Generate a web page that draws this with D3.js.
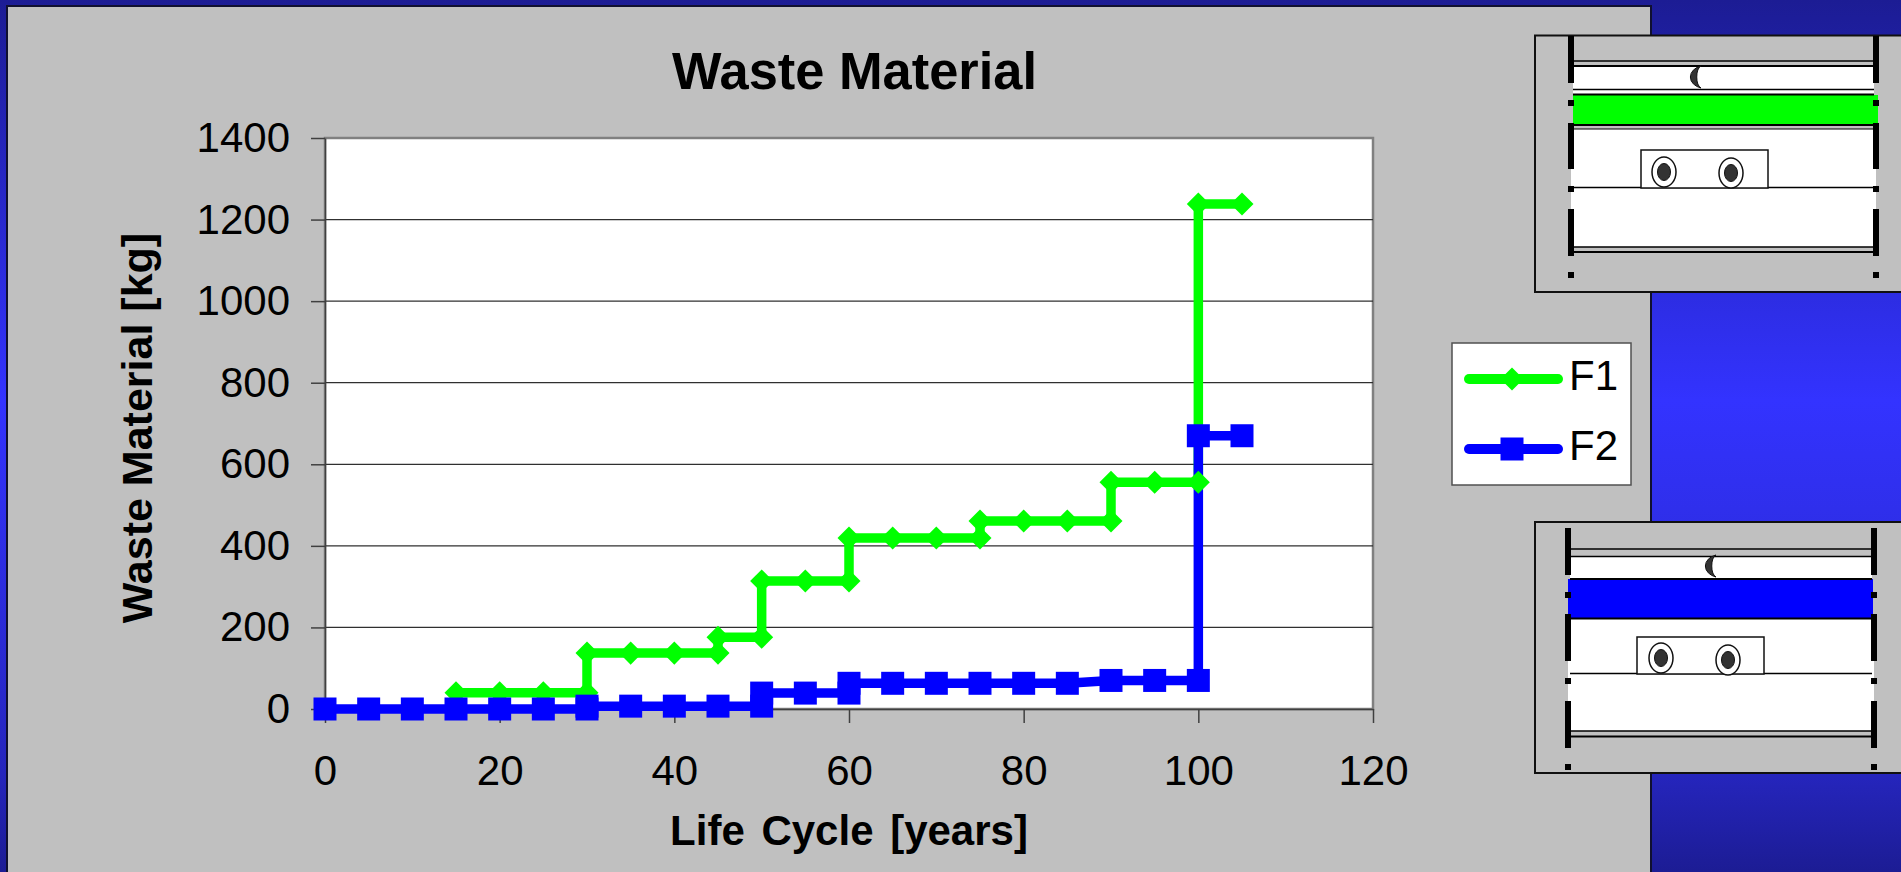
<!DOCTYPE html>
<html>
<head>
<meta charset="utf-8">
<script src="https://cdn.jsdelivr.net/npm/d3@7"></script>
<style>
  html, body { margin: 0; padding: 0; background: #1c1c94; overflow: hidden; }
  text { font-family: "Liberation Sans", Arial, sans-serif; fill: #000; }
  .axis path, .axis line { stroke: #404040; stroke-width: 1.5; }
</style>
</head>
<body>
<svg id="chart" width="1901" height="872"></svg>
<script>
const title = "Waste Material";
const xTitle = "Life Cycle [years]";
const yTitle = "Waste Material [kg]";
const xTicks = [0, 20, 40, 60, 80, 100, 120];
const yTicks = [0, 200, 400, 600, 800, 1000, 1200, 1400];

// step curves: the same year shows up twice where the value jumps
const f1Years = [15, 20, 25, 30, 30, 35, 40, 45, 45, 50, 50, 55, 60, 60, 65, 70, 75, 75, 80, 85, 90, 90, 95, 100, 100, 105];
const f1Waste = [40, 40, 40, 40, 137, 137, 137, 137, 176, 176, 314, 314, 314, 419, 419, 419, 419, 461, 461, 461, 461, 556, 556, 556, 1238, 1238];
const f2Years = [0, 5, 10, 15, 20, 25, 30, 30, 35, 40, 45, 50, 50, 55, 60, 60, 65, 70, 75, 80, 85, 90, 95, 100, 100, 105];
const f2Waste = [0, 0, 0, 0, 0, 0, 0, 7, 7, 7, 7, 7, 39, 39, 39, 63, 63, 63, 63, 63, 63, 70, 70, 70, 670, 670];

const svg = d3.select("#chart");
const margin = { left: 325, top: 138, right: 1373, bottom: 709 };

const x = d3.scaleLinear().domain([0, 120]).range([margin.left, margin.right]);
const y = d3.scaleLinear().domain([0, 1400]).range([margin.bottom, margin.top]);

// slide background
const grad = svg.append("defs").append("linearGradient")
  .attr("id", "bg").attr("x1", 0).attr("x2", 0).attr("y1", 0).attr("y2", 1);
grad.append("stop").attr("offset", "0%").attr("stop-color", "#1c1c94");
grad.append("stop").attr("offset", "46%").attr("stop-color", "#3333ff");
grad.append("stop").attr("offset", "89%").attr("stop-color", "#2525bc");
grad.append("stop").attr("offset", "100%").attr("stop-color", "#1c1c94");
svg.append("rect").attr("width", 1901).attr("height", 872).attr("fill", "url(#bg)");
svg.append("rect").attr("x", 7).attr("y", 6).attr("width", 1644).attr("height", 880)
  .attr("fill", "#c0c0c0").attr("stroke", "#101030").attr("stroke-width", 2);

// plot area
svg.append("rect")
  .attr("x", margin.left).attr("y", margin.top)
  .attr("width", margin.right - margin.left).attr("height", margin.bottom - margin.top)
  .attr("fill", "#fff").attr("stroke", "#808080").attr("stroke-width", 2.5);

// gridlines
svg.append("g").selectAll("line")
  .data(yTicks.filter(d => d > 0 && d < 1400))
  .join("line")
  .attr("x1", margin.left).attr("x2", margin.right)
  .attr("y1", d => y(d)).attr("y2", d => y(d))
  .attr("stroke", "#303030").attr("stroke-width", 1.2);

// axes
const xAxis = d3.axisBottom(x).tickValues(xTicks).tickSize(14).tickPadding(32).tickSizeOuter(0).tickFormat(d3.format("d"));
const yAxis = d3.axisLeft(y).tickValues(yTicks).tickSize(14).tickPadding(21).tickSizeOuter(0).tickFormat(d3.format("d"));

const xG = svg.append("g").attr("class", "axis").attr("transform", `translate(0,${margin.bottom})`).call(xAxis);
const yG = svg.append("g").attr("class", "axis").attr("transform", `translate(${margin.left},0)`).call(yAxis);
xG.selectAll("text").attr("font-size", 42).style("font-family", '"Liberation Sans"').attr("fill", "#000");
yG.selectAll("text").attr("font-size", 42).style("font-family", '"Liberation Sans"').attr("fill", "#000");

// series
const line = d3.line().x(d => x(d[0])).y(d => y(d[1]));
const series = [
  { name: "F1", years: f1Years, waste: f1Waste, color: "#00ff00", symbol: d3.symbolDiamond2, size: 338 },
  { name: "F2", years: f2Years, waste: f2Waste, color: "#0000ff", symbol: d3.symbolSquare, size: 529 }
];

// lines first, then markers: the green diamonds sit on top of the blue line
series.forEach(s => {
  const pts = s.years.map((yr, i) => [yr, s.waste[i]]);
  svg.append("path").datum(pts)
    .attr("d", line)
    .attr("fill", "none")
    .attr("stroke", s.color)
    .attr("stroke-width", 9.5)
    .attr("stroke-linejoin", "miter");
});
series.forEach(s => {
  const pts = s.years.map((yr, i) => [yr, s.waste[i]]);
  svg.append("g").selectAll("path")
    .data(pts)
    .join("path")
    .attr("d", d3.symbol().type(s.symbol).size(s.size))
    .attr("transform", d => `translate(${x(d[0])},${y(d[1])})`)
    .attr("fill", s.color);
});

// titles
svg.append("text").attr("x", 854.5).attr("y", 88.5).attr("text-anchor", "middle")
  .attr("font-size", 52.4).attr("font-weight", "bold").text(title);
svg.append("text").attr("x", 849).attr("y", 845).attr("text-anchor", "middle")
  .attr("font-size", 42).attr("font-weight", "bold").attr("word-spacing", 5).text(xTitle);
svg.append("text").attr("transform", "translate(152,428) rotate(-90)").attr("text-anchor", "middle")
  .attr("font-size", 43).attr("font-weight", "bold").text(yTitle);

// legend
const legend = svg.append("g");
legend.append("rect").attr("x", 1452).attr("y", 343).attr("width", 179).attr("height", 142)
  .attr("fill", "#fff").attr("stroke", "#505050").attr("stroke-width", 1.5);
series.forEach((s, i) => {
  const ly = 379 + i * 70;
  legend.append("line").attr("x1", 1469).attr("x2", 1558).attr("y1", ly).attr("y2", ly)
    .attr("stroke", s.color).attr("stroke-width", 10).attr("stroke-linecap", "round");
  legend.append("path").attr("d", d3.symbol().type(s.symbol).size(s.size))
    .attr("transform", `translate(1512,${ly})`).attr("fill", s.color);
  legend.append("text").attr("x", 1569).attr("y", ly + 11).attr("font-size", 42).text(s.name);
});

// cross-section sketches on the right
function section(o) {
  const g = svg.append("g");
  g.append("rect").attr("x", 1535).attr("y", o.top).attr("width", 380).attr("height", o.bottom - o.top)
    .attr("fill", "#c0c0c0").attr("stroke", "#101010").attr("stroke-width", 2);
  g.append("rect").attr("x", o.left + 2).attr("y", o.whiteTop).attr("width", o.right - o.left - 4).attr("height", o.whiteBottom - o.whiteTop).attr("fill", "#fff");
  g.append("rect").attr("x", o.left).attr("y", o.gapTop).attr("width", o.right - o.left).attr("height", o.gapBottom - o.gapTop).attr("fill", "#fff");
  // grey strips between the paired lines
  g.selectAll(".strip").data(o.strips).join("rect")
    .attr("x", o.left + 2).attr("width", o.right - o.left - 4)
    .attr("y", d => d[0]).attr("height", d => d[1] - d[0]).attr("fill", "#c0c0c0");
  g.selectAll(".thin").data(o.lines).join("line")
    .attr("x1", o.left + 2).attr("x2", o.right - 2)
    .attr("y1", d => d[0]).attr("y2", d => d[0])
    .attr("stroke", "#000").attr("stroke-width", d => d[1]);
  g.append("rect").attr("x", o.fill[0]).attr("y", o.fill[1]).attr("width", o.fill[2]).attr("height", o.fill[3]).attr("fill", o.color);
  g.selectAll(".thick").data(o.thick).join("line")
    .attr("x1", o.left + 2).attr("x2", o.right - 2)
    .attr("y1", d => d).attr("y2", d => d)
    .attr("stroke", "#000").attr("stroke-width", 2);
  [o.left, o.right].forEach(bx => {
    g.selectAll(null).data(o.bars).join("rect")
      .attr("x", bx - 3).attr("y", d => d[0]).attr("width", 6).attr("height", d => d[1] - d[0]).attr("fill", "#000");
    g.selectAll(null).data(o.dots).join("rect")
      .attr("x", bx - 3).attr("y", d => d).attr("width", 6).attr("height", 6).attr("fill", "#000");
  });
  g.append("rect").attr("x", o.box[0]).attr("y", o.box[1]).attr("width", o.box[2]).attr("height", o.box[3])
    .attr("fill", "#fff").attr("stroke", "#101010").attr("stroke-width", 1.5);
  o.holes.forEach(h => {
    g.append("ellipse").attr("cx", h[0]).attr("cy", h[1]).attr("rx", 12).attr("ry", 15).attr("fill", "#fff").attr("stroke", "#101010").attr("stroke-width", 1.5);
    g.append("ellipse").attr("cx", h[0]).attr("cy", h[1]).attr("rx", 6.5).attr("ry", 8.5).attr("fill", "#333").attr("stroke", "#101010");
  });
  const [cx, cy] = o.moon;
  g.append("path")
    .attr("d", `M${cx + 7},${cy - 11} A15,11.5 0 0 0 ${cx + 7},${cy + 11} A6,11.5 0 0 1 ${cx + 7},${cy - 11} Z`)
    .attr("fill", "#333").attr("stroke", "#101010");
}

section({
  top: 35.5, bottom: 292, left: 1571, right: 1876,
  whiteTop: 66, whiteBottom: 252, gapTop: 169, gapBottom: 209,
  strips: [[125, 129], [247, 252]],
  lines: [[61, 1.5], [89.5, 1.5], [187.5, 1.5], [247, 1.5], [129, 1]],
  thick: [66, 94.5, 125, 252],
  fill: [1573, 95, 305, 30], color: "#00ff00",
  bars: [[36, 83], [123, 169], [209, 256]], dots: [100, 186, 272],
  box: [1641, 150, 127, 38], holes: [[1664, 172], [1731, 173]], moon: [1694, 77]
});
section({
  top: 522, bottom: 773, left: 1568, right: 1874,
  whiteTop: 557, whiteBottom: 735, gapTop: 661, gapBottom: 701,
  strips: [[731, 736]],
  lines: [[549, 1.5], [556.5, 1.5], [673.5, 1.5], [731, 1.5]],
  thick: [579, 618.5, 736.5],
  fill: [1568, 579, 305, 39], color: "#0000ff",
  bars: [[528, 575], [614, 661], [701, 748]], dots: [592, 678, 764],
  box: [1637, 637, 127, 37], holes: [[1661, 658], [1728, 660]], moon: [1709, 566]
});
</script>
</body>
</html>
